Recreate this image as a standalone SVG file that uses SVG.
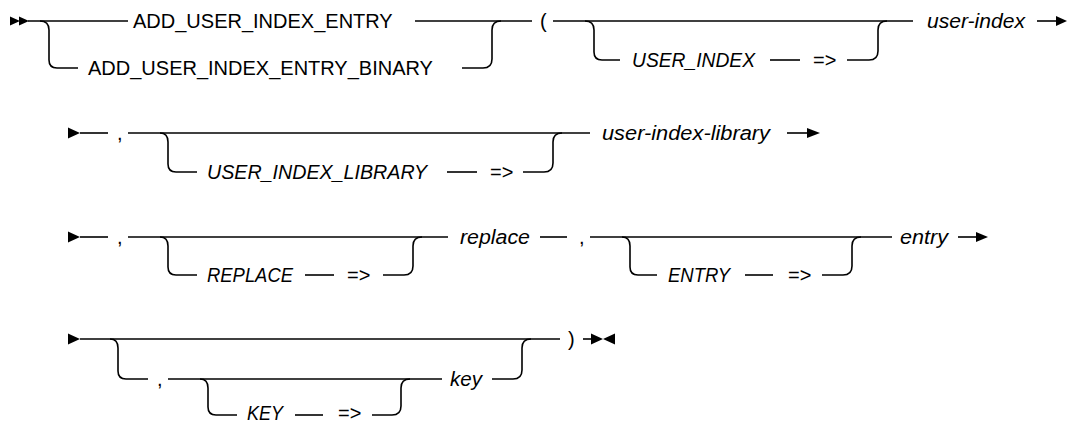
<svg xmlns="http://www.w3.org/2000/svg" width="1068" height="425" viewBox="0 0 1068 425">
<style>
  .ln { fill: none; stroke: #000; stroke-width: 1.6; }
  .mk { fill: #000; stroke: none; }
  .t { font-family: "Liberation Sans", Arial, sans-serif; font-size: 20px; fill: #000; }
  .v { font-family: "Liberation Sans", Arial, sans-serif; font-size: 20px; font-style: italic; fill: #000; }
</style>
<rect width="1068" height="425" fill="#fff"/>
<g id="connectors">
  <!-- row 1 -->
  <path class="ln" d="M28 21 H128"/>
  <path class="ln" d="M40 21 Q49 21 49 30 V60 Q49 68 57 68 H78"/>
  <path class="ln" d="M415 21 H532"/>
  <path class="ln" d="M462 68 H483 Q492 68 492 59 V30 Q492 21 501 21"/>
  <path class="ln" d="M553 21 H913"/>
  <path class="ln" d="M585 21 Q594 21 594 30 V52 Q594 60 602 60 H620"/>
  <path class="ln" d="M770 60 H800"/>
  <path class="ln" d="M847 60 H869 Q878 60 878 51 V30 Q878 21 887 21"/>
  <path class="ln" d="M1037 21 H1058"/>
  <!-- row 2 -->
  <path class="ln" d="M80 133 H108"/>
  <path class="ln" d="M128 133 H590"/>
  <path class="ln" d="M160 133 Q168 133 168 142 V164 Q168 172 176 172 H197"/>
  <path class="ln" d="M447 172 H477"/>
  <path class="ln" d="M523 172 H544 Q553 172 553 163 V142 Q553 133 562 133"/>
  <path class="ln" d="M787 133 H808"/>
  <!-- row 3 -->
  <path class="ln" d="M80 237 H108"/>
  <path class="ln" d="M128 237 H448"/>
  <path class="ln" d="M160 237 Q168 237 168 246 V267 Q168 275 176 275 H197"/>
  <path class="ln" d="M305 275 H334"/>
  <path class="ln" d="M383 275 H404 Q413 275 413 266 V246 Q413 237 422 237"/>
  <path class="ln" d="M540 237 H567"/>
  <path class="ln" d="M590 237 H892"/>
  <path class="ln" d="M622 237 Q630 237 630 246 V267 Q630 275 638 275 H657"/>
  <path class="ln" d="M745 275 H773"/>
  <path class="ln" d="M822 275 H843 Q852 275 852 266 V246 Q852 237 861 237"/>
  <path class="ln" d="M958 237 H977"/>
  <!-- row 4 -->
  <path class="ln" d="M80 339 H560"/>
  <path class="ln" d="M110 339 Q118 339 118 348 V371 Q118 379 126 379 H148"/>
  <path class="ln" d="M168 379 H442"/>
  <path class="ln" d="M200 379 Q208 379 208 388 V407 Q208 415 216 415 H237"/>
  <path class="ln" d="M295 415 H323"/>
  <path class="ln" d="M372 415 H392 Q401 415 401 406 V388 Q401 379 410 379"/>
  <path class="ln" d="M492 379 H513 Q522 379 522 370 V348 Q522 339 531 339"/>
  <path class="ln" d="M583 339 H592"/>
</g>
<g id="markers">
  <path class="mk" d="M10 16.5 L20 21 L10 25.5 Z M19 16.5 L29 21 L19 25.5 Z"/>
  <path class="mk" d="M1056 16 L1067 21 L1056 26 Z"/>
  <path class="mk" d="M68 127.5 L80 133 L68 138.5 Z"/>
  <path class="mk" d="M807 128 L820 133 L807 138 Z"/>
  <path class="mk" d="M68 231.5 L80 237 L68 242.5 Z"/>
  <path class="mk" d="M976 232 L988 237 L976 242 Z"/>
  <path class="mk" d="M68 333.5 L80 339 L68 344.5 Z"/>
  <path class="mk" d="M591 333.5 L603 339 L591 344.5 Z M615 333.5 L603 339 L615 344.5 Z"/>
</g>
<g id="n-add-entry"><text class="t" x="133" y="28">ADD_USER_INDEX_ENTRY</text></g>
<g id="n-add-entry-binary"><text class="t" x="88" y="75">ADD_USER_INDEX_ENTRY_BINARY</text></g>
<g id="n-lparen"><text class="t" x="540" y="28">(</text></g>
<g id="n-kw-user-index"><text class="v" x="632" y="67" textLength="123" lengthAdjust="spacingAndGlyphs">USER_INDEX</text></g>
<g id="n-arrow1"><text class="t" x="813" y="67">=&gt;</text></g>
<g id="n-user-index"><text class="v" x="927" y="28" textLength="98" lengthAdjust="spacingAndGlyphs">user-index</text></g>
<g id="n-comma1"><text class="t" x="117" y="140">,</text></g>
<g id="n-kw-user-index-library"><text class="v" x="207" y="179" textLength="220" lengthAdjust="spacingAndGlyphs">USER_INDEX_LIBRARY</text></g>
<g id="n-arrow2"><text class="t" x="490" y="179">=&gt;</text></g>
<g id="n-user-index-library"><text class="v" x="602" y="140" textLength="168" lengthAdjust="spacingAndGlyphs">user-index-library</text></g>
<g id="n-comma2"><text class="t" x="117" y="244">,</text></g>
<g id="n-kw-replace"><text class="v" x="207" y="282" textLength="86" lengthAdjust="spacingAndGlyphs">REPLACE</text></g>
<g id="n-arrow3"><text class="t" x="347" y="282">=&gt;</text></g>
<g id="n-replace"><text class="v" x="460" y="244" textLength="70" lengthAdjust="spacingAndGlyphs">replace</text></g>
<g id="n-comma3"><text class="t" x="579" y="244">,</text></g>
<g id="n-kw-entry"><text class="v" x="668" y="282" textLength="62" lengthAdjust="spacingAndGlyphs">ENTRY</text></g>
<g id="n-arrow4"><text class="t" x="788" y="282">=&gt;</text></g>
<g id="n-entry"><text class="v" x="900" y="244" textLength="48" lengthAdjust="spacingAndGlyphs">entry</text></g>
<g id="n-comma4"><text class="t" x="157" y="386">,</text></g>
<g id="n-kw-key"><text class="v" x="247" y="420" textLength="36" lengthAdjust="spacingAndGlyphs">KEY</text></g>
<g id="n-arrow5"><text class="t" x="338" y="420">=&gt;</text></g>
<g id="n-key"><text class="v" x="450" y="386" textLength="32" lengthAdjust="spacingAndGlyphs">key</text></g>
<g id="n-rparen"><text class="t" x="568" y="346">)</text></g>
</svg>
